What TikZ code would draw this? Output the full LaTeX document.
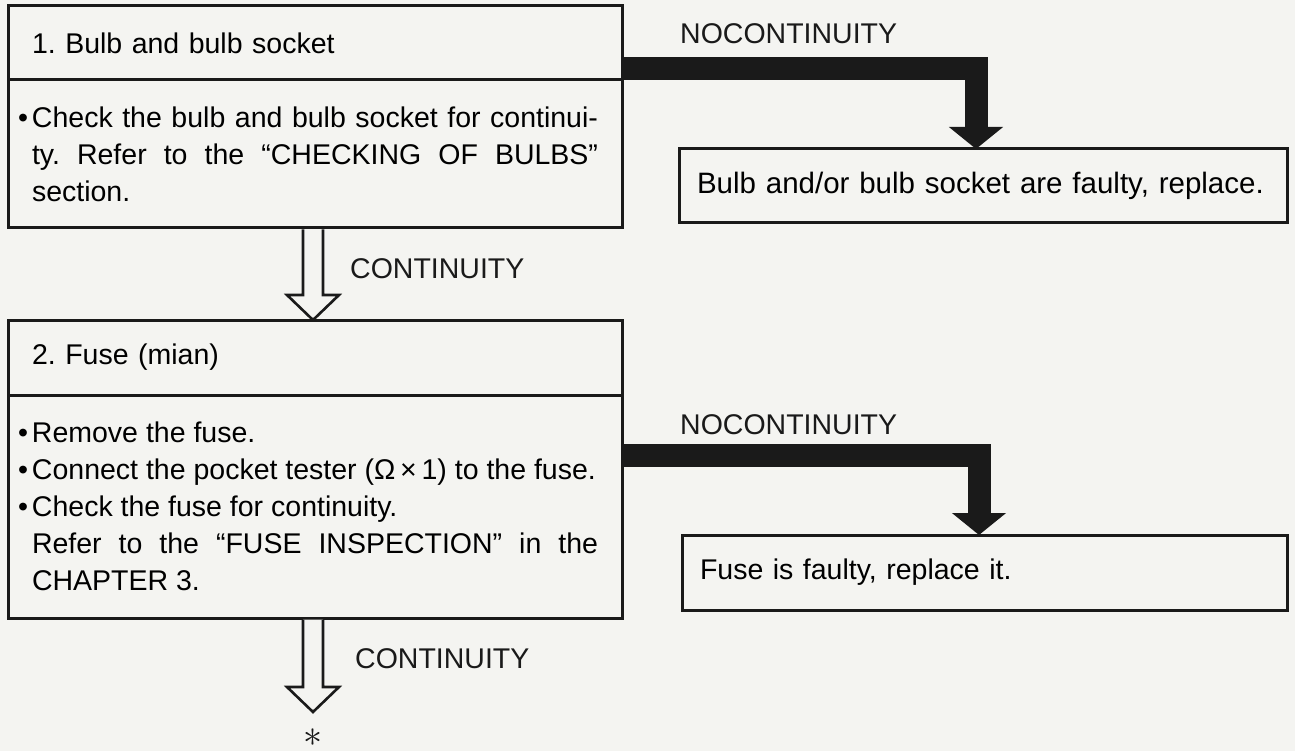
\documentclass[tikz,border=0pt]{standalone}
\usepackage{fontspec}
\setmainfont{Liberation Sans}
\usetikzlibrary{arrows.meta,positioning,calc}
\definecolor{paper}{HTML}{F4F4F1}
\definecolor{ink}{HTML}{1A1A1A}
\frenchspacing

\tikzset{
  stepfont/.style={font=\fontsize{28.5pt}{37pt}\selectfont},
  headbox/.style={draw=ink, line width=3pt, outer sep=0pt, minimum width=614pt, text width=566pt, align=left, stepfont},
  bodybox/.style={headbox, align=justify},
  faultbox/.style={draw=ink, line width=3pt, outer sep=0pt, align=left, inner xsep=18pt, stepfont},
  caption/.style={inner sep=0pt, anchor=base west, text=ink, stepfont},
  solidarrow/.style={draw=ink, line width=23pt, line join=miter, -{Triangle[width=53pt,length=22pt]}},
  hollow/.style={draw=ink, fill=paper, line width=2.6pt, line join=miter},
}
\newcommand\bul{\llap{\textbullet\hspace{4pt}}}
% open down arrow: shaft from #1, tip at #2
\newcommand\hollowdown[2]{%
  \draw[hollow] ($(#1)+(-10,1.5)$) -- ($(#2)+(-10,-25)$) -- ($(#2)+(-26,-25)$) -- (#2)
    -- ($(#2)+(26,-25)$) -- ($(#2)+(10,-25)$) -- ($(#1)+(10,1.5)$);}

\begin{document}
\begin{tikzpicture}[x=1pt, y=-1pt]
  \fill[paper] (0,0) rectangle (1295,751);

  % left column
  \node[headbox, minimum height=74pt, anchor=north west] (bulbhead) at (8,6) {1. Bulb and bulb socket};
  \node[bodybox, minimum height=148pt, below=0pt of bulbhead] (bulbbody) {\bul Check the bulb and bulb socket for continui-\linebreak ty. Refer to the ``CHECKING OF BULBS''\linebreak section.};
  \node[headbox, minimum height=75pt, anchor=north west] (fusehead) at (8,320) {2. Fuse (mian)};
  \node[bodybox, minimum height=223pt, below=0pt of fusehead] (fusebody) {\bul Remove the fuse.\\
    \bul Connect the pocket tester (Ω\,×\,1) to the fuse.\\
    \bul Check the fuse for continuity.\\
    Refer to the ``FUSE INSPECTION'' in the\linebreak
    CHAPTER 3.};
  \node[inner sep=0pt, text=ink] (star) at (313,738) {\scalebox{3.8}{$\ast$}};

  % right column
  \node[faultbox, font=\fontsize{29.5pt}{37pt}\selectfont, minimum width=608pt, text width=572pt, minimum height=74pt, anchor=north west] (fault1) at (679,149) {Bulb and/or bulb socket are faulty, replace.};
  \node[faultbox, minimum width=605pt, text width=569pt, minimum height=75pt, anchor=north west] (fault2) at (682,535) {Fuse is faulty, replace it.};

  \node[caption] (nocont1) at (680,44) {NOCONTINUITY};
  \node[caption] (nocont2) at (680,434) {NOCONTINUITY};
  \node[caption] (cont1) at (350,279) {CONTINUITY};
  \node[caption] (cont2) at (355,668) {CONTINUITY};

  \coordinate (tip1) at ($(fault1.north west)+(297,0)$);
  \coordinate (tip2) at ($(fault2.north west)+(297,0)$);
  \coordinate (tip3) at ($(star)+(0,-26)$);

  \draw[solidarrow] ($(bulbhead.south east)+(0,-11)$) -| (tip1);
  \draw[solidarrow] ($(fusebody.north east)+(0,60.5)$) -| (tip2);

  \hollowdown{bulbbody.south -| star}{fusehead.north -| star}
  \hollowdown{fusebody.south -| star}{tip3}
\end{tikzpicture}
\end{document}
